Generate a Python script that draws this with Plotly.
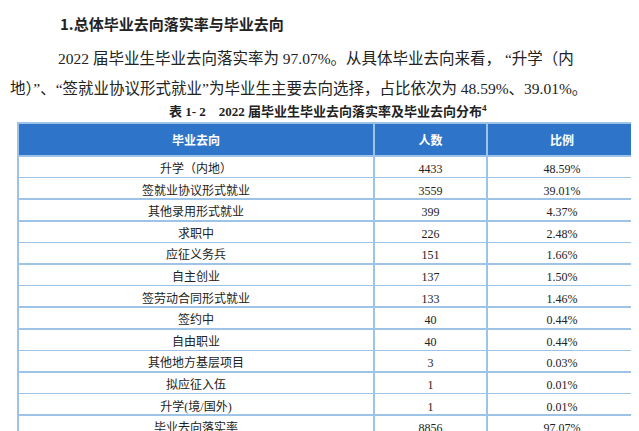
import plotly.graph_objects as go

W, H = 639, 431

header = ["毕业去向", "人数", "比例"]
destinations = ["升学（内地）", "签就业协议形式就业", "其他录用形式就业", "求职中", "应征义务兵",
                "自主创业", "签劳动合同形式就业", "签约中", "自由职业", "其他地方基层项目",
                "拟应征入伍", "升学(境/国外)", "毕业去向落实率"]
counts = [4433, 3559, 399, 226, 151, 137, 133, 40, 40, 3, 1, 1, 8856]
ratios = ["48.59%", "39.01%", "4.37%", "2.48%", "1.66%", "1.50%", "1.46%", "0.44%",
          "0.44%", "0.03%", "0.01%", "0.01%", "97.07%"]

SERIF = "Liberation Serif, Noto Sans CJK SC"
SANS = "Noto Sans CJK SC"
BORDER = "#9DC3E6"

fig = go.Figure()
fig.add_trace(go.Table(
    domain=dict(x=[10 / W, 629 / W], y=[0, 1 - 115 / H]),
    columnwidth=[356, 113, 150],
    header=dict(values=["<b>%s</b>" % h for h in header], fill_color="#2E75C9",
                line=dict(color=BORDER, width=1.5),
                font=dict(color="white", size=12, family=SANS), height=22, align="center"),
    cells=dict(values=[destinations, counts, ratios], fill_color="white",
               line=dict(color=BORDER, width=1.5),
               font=dict(color="#222222", size=12, family=SERIF), height=21.6, align="center"),
))


def text(x, y, s, size, family, xanchor="left"):
    fig.add_annotation(x=x / W, y=1 - y / H, xref="paper", yref="paper", text=s,
                       showarrow=False, xanchor=xanchor, yanchor="middle",
                       font=dict(size=size, family=family, color="#222222"))


text(50, 15, "<b>1.总体毕业去向落实率与毕业去向</b>", 15, SANS)
text(48, 50, "2022 届毕业生毕业去向落实率为 97.07%。从具体毕业去向来看， “升学（内", 15.5, SERIF)
text(0, 80, "地）”、“签就业协议形式就业”为毕业生主要去向选择，占比依次为 48.59%、39.01%。", 15.5, SERIF)
text(320, 103, "<b>表 1- 2　2022 届毕业生毕业去向落实率及毕业去向分布<sup>4</sup></b>", 13, SERIF, "center")

fig.update_layout(width=W, height=H, margin=dict(l=0, r=0, t=0, b=0),
                  paper_bgcolor="white", plot_bgcolor="white")
fig.write_html("out.html")
